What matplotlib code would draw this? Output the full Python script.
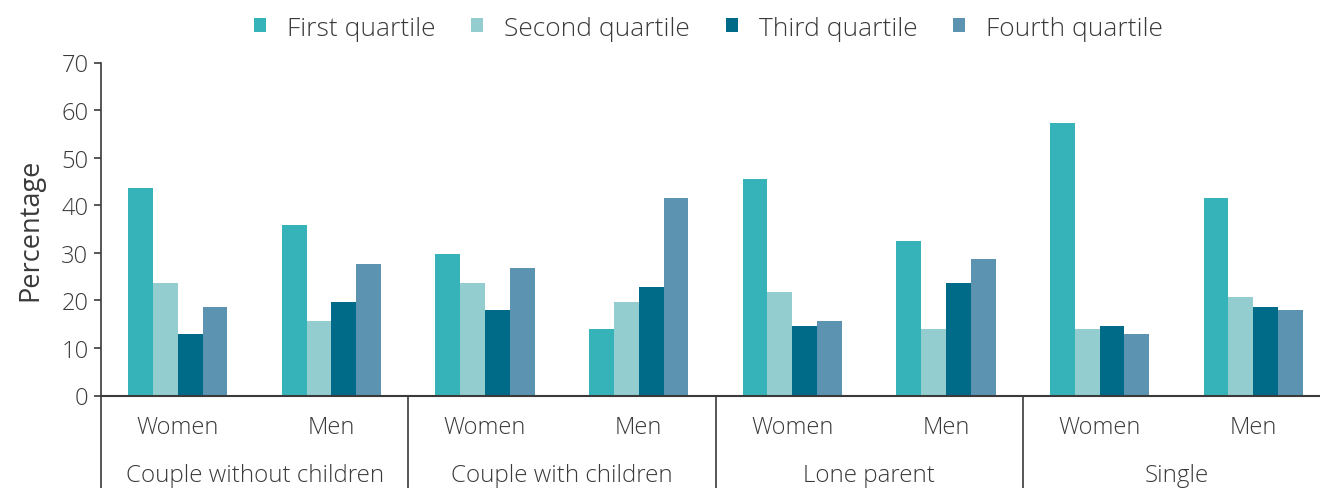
import matplotlib.pyplot as plt
from matplotlib.patches import Patch
import numpy as np

# dati
households = ['Couple without children', 'Couple with children', 'Lone parent', 'Single']
sexes = ['Women', 'Men']
quartiles = ['First quartile', 'Second quartile', 'Third quartile', 'Fourth quartile']
first_q = [43.6, 35.8, 29.7, 13.9, 45.5, 32.4, 57.2, 41.5]
second_q = [23.6, 15.6, 23.6, 19.6, 21.7, 13.9, 13.9, 20.7]
third_q = [12.9, 19.6, 17.9, 22.8, 14.6, 23.6, 14.6, 18.6]
fourth_q = [18.6, 27.6, 26.8, 41.5, 15.6, 28.7, 12.9, 17.9]
colors = ['#35b3b8', '#93cdd0', '#006a89', '#5b93b0']

text_col = '#3a3a3a'
plt.rcParams['font.family'] = ['Open Sans', 'DejaVu Sans']
plt.rcParams['font.weight'] = 'light'
plt.rcParams['font.size'] = 17

fig = plt.figure(figsize=(13.2, 4.89), dpi=100)
ax = fig.add_axes([101/1320, 1 - 396.5/489, 1229/1320, 333/489])

x = np.arange(len(first_q))
bw = 0.1616
series = [first_q, second_q, third_q, fourth_q]
for i, vals in enumerate(series):
    ax.bar(x + (i - 1.5) * bw, vals, width=bw, color=colors[i], linewidth=0)

ax.set_xlim(-0.5, len(first_q) - 0.5)
ax.set_ylim(0, 70)
ax.set_yticks(range(0, 71, 10))
ax.set_xticks([])
for s in ['top', 'right', 'bottom']:
    ax.spines[s].set_visible(False)
ax.spines['left'].set_color(text_col)
ax.spines['left'].set_linewidth(1.2)
ax.axhline(0, color=text_col, linewidth=1.5, clip_on=False)
ax.tick_params(axis='y', colors=text_col, labelcolor=text_col, length=5, width=1.2, pad=4)
ax.set_ylabel('Percentage', color=text_col, fontsize=19.5, labelpad=12)

# etichette sotto l'asse (sesso e tipo di famiglia)
trans = ax.get_xaxis_transform()
for k in range(len(first_q)):
    ax.text(x[k], -0.096, sexes[k % 2], transform=trans, ha='center', va='center', color=text_col)
for g, name in enumerate(households):
    ax.text(2 * g + 0.5, -0.24, name, transform=trans, ha='center', va='center',
            color=text_col, fontsize=17.4)
    ax.plot([2 * g - 0.5, 2 * g - 0.5], [0, -0.3], transform=trans, color=text_col,
            linewidth=1.2, clip_on=False)

handles = [Patch(facecolor=c, edgecolor='none') for c in colors]
fig.legend(handles, quartiles, loc='center', bbox_to_anchor=(0.5367, 1 - 29/489), ncol=4,
           frameon=False, handlelength=0.45, handleheight=0.45, handletextpad=0.8,
           columnspacing=1.35, labelcolor=text_col, fontsize=19)

fig.savefig('out.png', dpi=100)
